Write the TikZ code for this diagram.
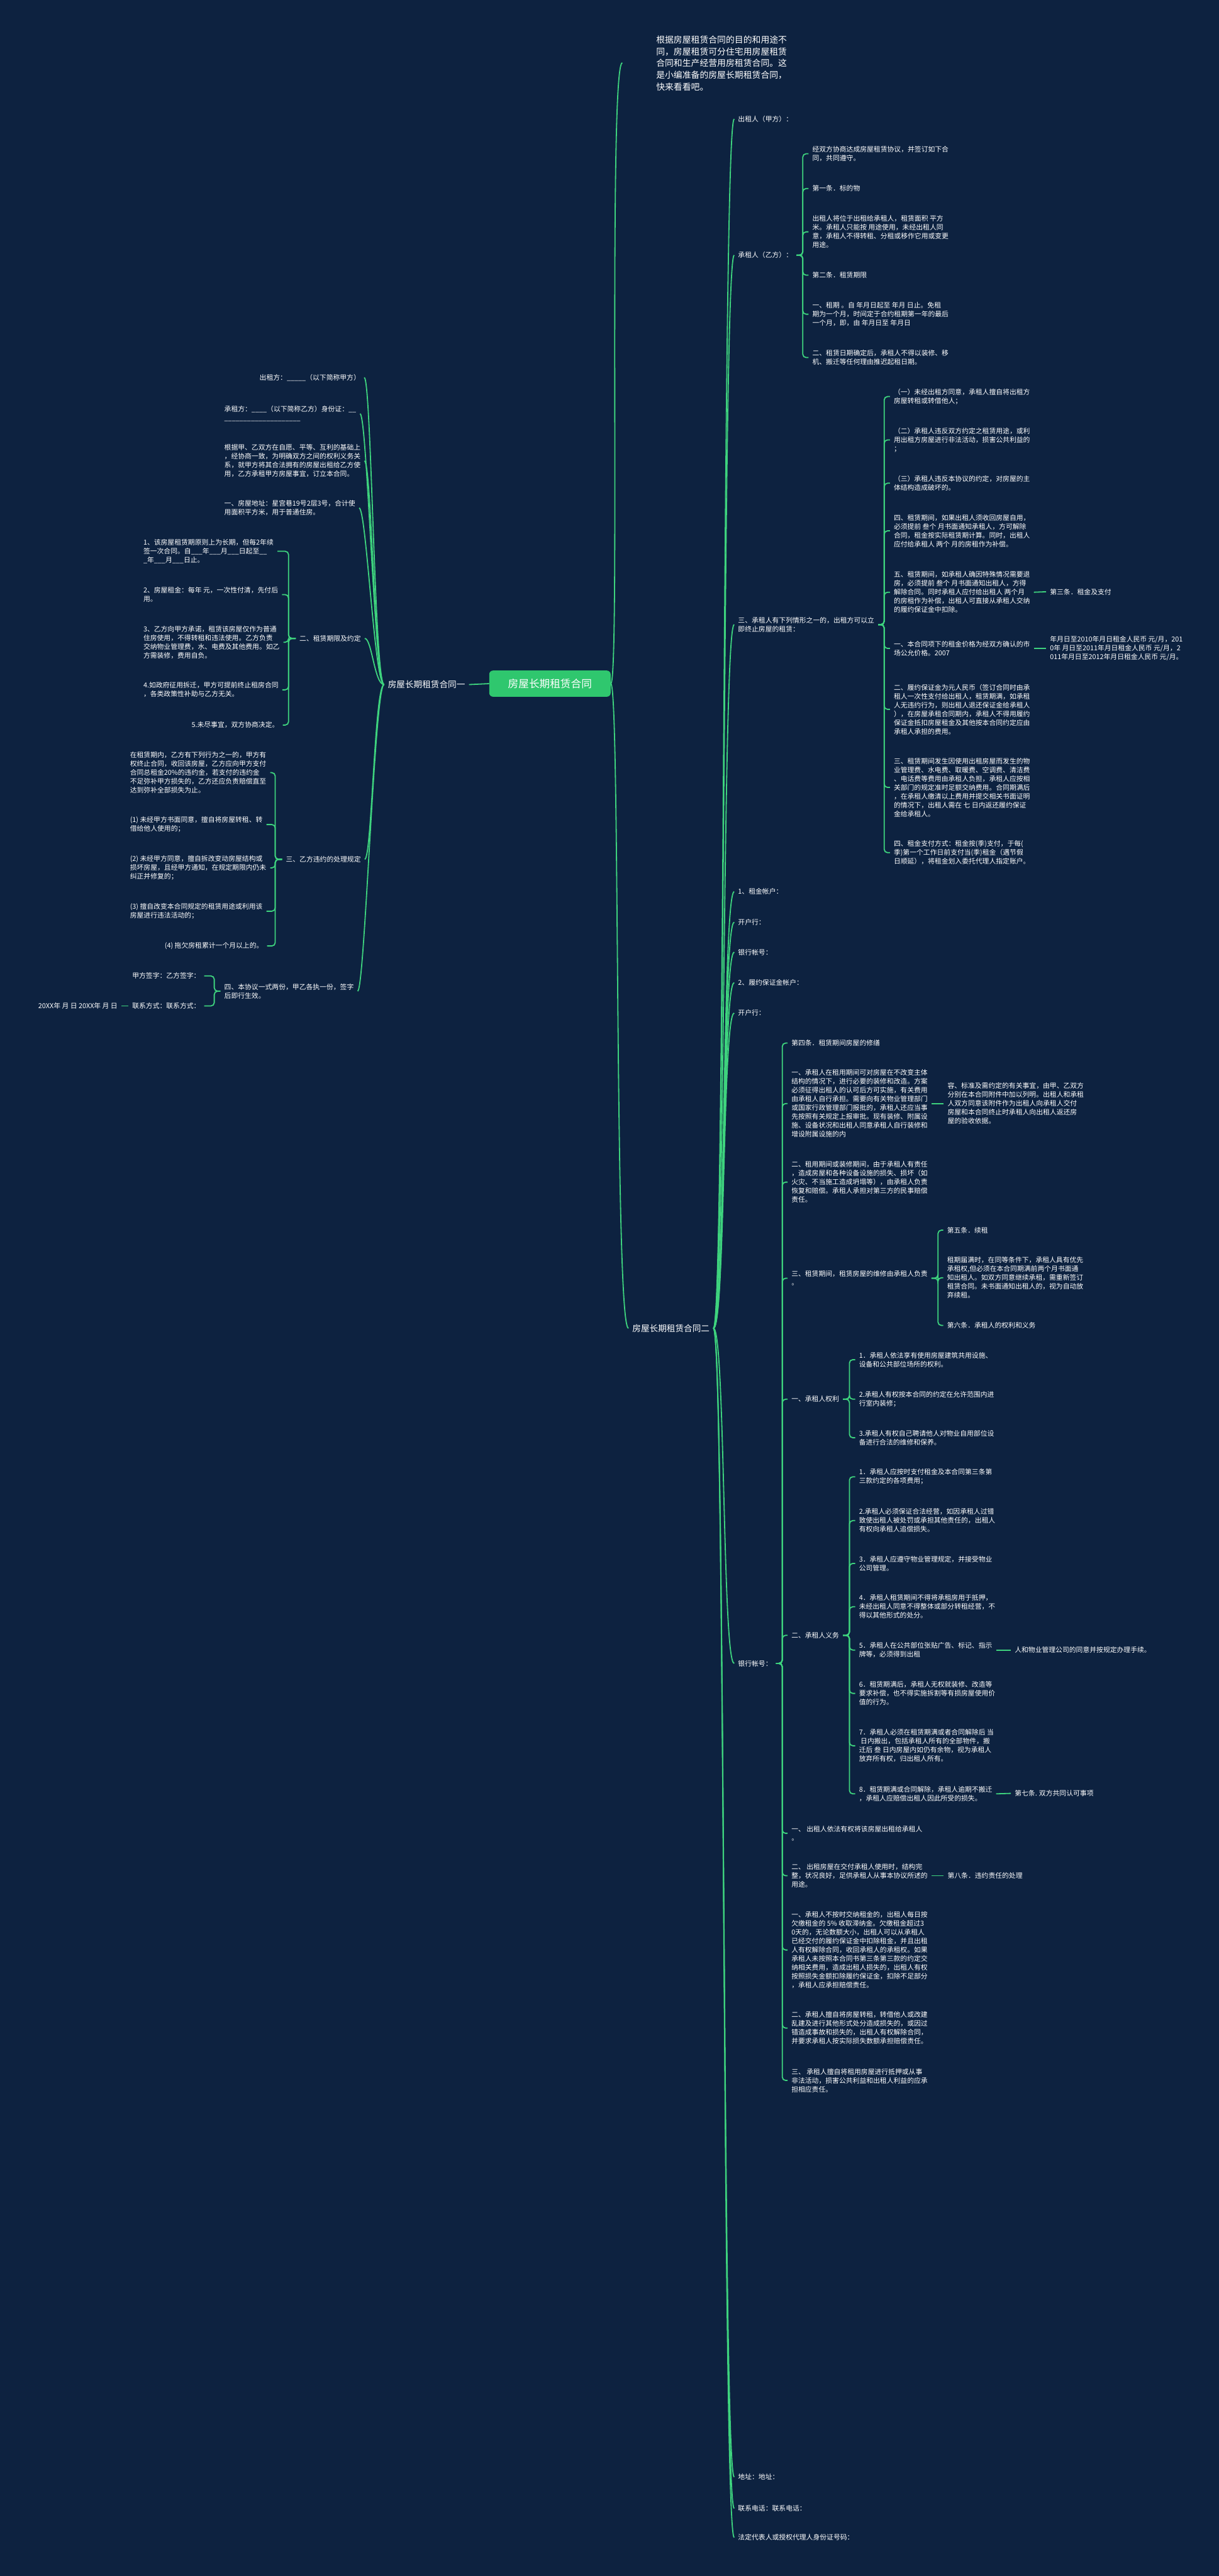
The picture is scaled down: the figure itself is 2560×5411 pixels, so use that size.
\documentclass[tikz,border=0pt]{standalone}
\usepackage{fontspec}
\setmainfont{Noto Sans CJK SC}
\definecolor{bgc}{HTML}{0D2240}
\definecolor{lineg}{HTML}{3ED37E}
\definecolor{cfill}{HTML}{2FC76E}
\begin{document}
\begin{tikzpicture}[x=1pt,y=-1pt]
\tikzset{
 every node/.style={text=white, inner ysep=0pt, inner xsep=8pt},
 sm/.style={font=\fontsize{14.3}{18.5}\selectfont, align=left},
 rw/.style={sm, anchor=west},
 le/.style={sm, anchor=east},
 big/.style={font=\fontsize{18}{24}\selectfont},
 ln/.style={draw=lineg, line width=2.4pt, rounded corners=7pt},
 cv/.style={draw=lineg, line width=2.4pt},
}
\fill[bgc] (0,0) rectangle (2560,5411);
\useasboundingbox (0,0) rectangle (2560,5411);

% center and roots
\node[fill=cfill, rounded corners=8pt, minimum width=255pt, minimum height=55pt, font=\fontsize{22}{26}\selectfont] (center) at (1155,1436) {房屋长期租赁合同};
\node[big, anchor=east] (root1) at (985,1438) {房屋长期租赁合同一};
\node[big, anchor=west] (root2) at (1320,2790) {房屋长期租赁合同二};
\node[anchor=west, inner xsep=0pt, align=left, font=\fontsize{18.3}{25}\selectfont] (intro) at (1378,133) {根据房屋租赁合同的目的和用途不\\同，房屋租赁可分住宅用房屋租赁\\合同和生产经营用房租赁合同。这\\是小编准备的房屋长期租赁合同，\\快来看看吧。};
\coordinate (introend) at (1307,132);
\draw[cv] (center.west) -- (root1.east);
\draw[cv] (center.east) .. controls +(20,0) and +(-30,0) .. (introend);
\draw[cv] (center.east) .. controls +(20,0) and +(-30,0) .. (root2.west);

% ---------- right root2 children ----------
\node[rw] (R1) at (1542,250) {出租人（甲方）：};
\node[rw] (R2) at (1542,536) {承租人（乙方）：};
\node[rw] (R3) at (1542,1312) {三、承租人有下列情形之一的，出租方可以立\\即终止房屋的租赁：};
\node[rw] (R4) at (1542,1873) {1、租金帐户：};
\node[rw] (R5) at (1542,1937) {开户行：};
\node[rw] (R6) at (1542,2000) {银行帐号：};
\node[rw] (R7) at (1542,2064) {2、履约保证金帐户：};
\node[rw] (R8) at (1542,2128) {开户行：};
\node[rw] (R9) at (1542,3494) {银行帐号：};
\node[rw] (R10) at (1542,5203) {地址：地址：};
\node[rw] (R11) at (1542,5269) {联系电话：联系电话：};
\node[rw] (R12) at (1542,5330) {法定代表人或授权代理人身份证号码：};
\foreach \c in {R1,R2,R3,R4,R5,R6,R7,R8,R9,R10,R11,R12}
  \draw[cv] (root2.east) .. controls +(25,0) and +(-25,0) .. (\c.west);

% R2 children
\coordinate (R2b) at (1686,0);
\node[rw] (c1) at (1698,323) {经双方协商达成房屋租赁协议，并签订如下合\\同，共同遵守。};
\node[rw] (c2) at (1698,396) {第一条．标的物};
\node[rw] (c3) at (1698,487) {出租人将位于出租给承租人，租赁面积 平方\\米。承租人只能按 用途使用，未经出租人同\\意，承租人不得转租、分租或移作它用或变更\\用途。};
\node[rw] (c4) at (1698,578) {第二条．租赁期限};
\node[rw] (c5) at (1698,660) {一、租期 。自 年月日起至 年月 日止。免租\\期为一个月，时间定于合约租期第一年的最后\\一个月，即，由 年月日至 年月日};
\node[rw] (c6) at (1698,751) {二、租赁日期确定后，承租人不得以装修、移\\机、搬迁等任何理由推迟起租日期。};
\foreach \c in {c1,c2,c3,c4,c5,c6}
  \draw[ln] (R2.east) -- (R2.east -| R2b) |- (\c.west);

% R3 children
\coordinate (R3b) at (1857,0);
\node[rw] (k1) at (1869,833) {（一）未经出租方同意，承租人擅自将出租方\\房屋转租或转借他人；};
\node[rw] (k2) at (1869,924) {（二）承租人违反双方约定之租赁用途，或利\\用出租方房屋进行非法活动，损害公共利益的\\；};
\node[rw] (k3) at (1869,1015) {（三）承租人违反本协议的约定，对房屋的主\\体结构造成破坏的。};
\node[rw] (k4) at (1869,1115) {四、租赁期间，如果出租人须收回房屋自用，\\必须提前 叁个 月书面通知承租人，方可解除\\合同，租金按实际租赁期计算。同时，出租人\\应付给承租人 两个 月的房租作为补偿。};
\node[rw] (k5) at (1869,1244) {五、租赁期间，如承租人确因特殊情况需要退\\房，必须提前 叁个 月书面通知出租人，方得\\解除合同。同时承租人应付给出租人 两个月\\的房租作为补偿，出租人可直接从承租人交纳\\的履约保证金中扣除。};
\node[rw] (k6) at (1869,1362) {一、本合同项下的租金价格为经双方确认的市\\场公允价格。2007};
\node[rw] (k7) at (1869,1490) {二、履约保证金为元人民币（签订合同时由承\\租人一次性支付给出租人，租赁期满，如承租\\人无违约行为，则出租人退还保证金给承租人\\），在房屋承租合同期内，承租人不得用履约\\保证金抵扣房屋租金及其他按本合同约定应由\\承租人承担的费用。};
\node[rw] (k8) at (1869,1654) {三、租赁期间发生因使用出租房屋而发生的物\\业管理费、水电费、取暖费、空调费、清洁费\\、电话费等费用由承租人负担，承租人应按相\\关部门的规定准时足额交纳费用。合同期满后\\，在承租人缴清以上费用并提交相关书面证明\\的情况下，出租人需在 七 日内返还履约保证\\金给承租人。};
\node[rw] (k9) at (1869,1791) {四、租金支付方式：租金按(季)支付，于每(\\季)第一个工作日前支付当(季)租金（遇节假\\日顺延），将租金划入委托代理人指定账户。};
\foreach \c in {k1,k2,k3,k4,k5,k6,k7,k8,k9}
  \draw[ln] (R3.east) -- (R3.east -| R3b) |- (\c.west);
\node[rw] (k5c) at (2197,1243) {第三条．租金及支付};
\node[rw] (k6c) at (2197,1362) {年月日至2010年月日租金人民币 元/月，201\\0年 月日至2011年月日租金人民币 元/月，2\\011年月日至2012年月日租金人民币 元/月。};
\draw[ln] (k5.east) -- (k5c.west);
\draw[ln] (k6.east) -- (k6c.west);

% R9 children
\coordinate (R9b) at (1643,0);
\node[rw] (b1) at (1654,2191) {第四条．租赁期间房屋的修缮};
\node[rw] (b2) at (1654,2318) {一、承租人在租用期间可对房屋在不改变主体\\结构的情况下，进行必要的装修和改造。方案\\必须征得出租人的认可后方可实施，有关费用\\由承租人自行承担。需要向有关物业管理部门\\或国家行政管理部门报批的，承租人还应当事\\先按照有关规定上报审批。现有装修、附属设\\施、设备状况和出租人同意承租人自行装修和\\增设附属设施的内};
\node[rw] (b3) at (1654,2483) {二、租用期间或装修期间，由于承租人有责任\\，造成房屋和各种设备设施的损失、损坏（如\\火灾、不当施工造成坍塌等），由承租人负责\\恢复和赔偿。承租人承担对第三方的民事赔偿\\责任。};
\node[rw] (b4) at (1654,2685) {三、租赁期间，租赁房屋的维修由承租人负责\\。};
\node[rw] (b5) at (1654,2939) {一、承租人权利};
\node[rw] (b6) at (1654,3435) {二、承租人义务};
\node[rw] (b7) at (1654,3851) {一、 出租人依法有权将该房屋出租给承租人\\。};
\node[rw] (b8) at (1654,3940) {二、 出租房屋在交付承租人使用时，结构完\\整，状况良好，足供承租人从事本协议所述的\\用途。};
\node[rw] (b9) at (1654,4096) {一、承租人不按时交纳租金的，出租人每日按\\欠缴租金的 5\% 收取滞纳金。欠缴租金超过3\\0天的，无论数额大小，出租人可以从承租人\\已经交付的履约保证金中扣除租金，并且出租\\人有权解除合同，收回承租人的承租权。如果\\承租人未按照本合同书第三条第三款的约定交\\纳相关费用，造成出租人损失的，出租人有权\\按照损失金额扣除履约保证金，扣除不足部分\\，承租人应承担赔偿责任。};
\node[rw] (b10) at (1654,4260) {二、承租人擅自将房屋转租，转借他人或改建\\乱建及进行其他形式处分造成损失的，或因过\\错造成事故和损失的，出租人有权解除合同，\\并要求承租人按实际损失数额承担赔偿责任。};
\node[rw] (b11) at (1654,4370) {三、 承租人擅自将租用房屋进行抵押或从事\\非法活动，损害公共利益和出租人利益的应承\\担相应责任。};
\foreach \c in {b1,b2,b3,b4,b5,b6,b7,b8,b9,b10,b11}
  \draw[ln] (R9.east) -- (R9.east -| R9b) |- (\c.west);
\node[rw] (b2c) at (1982,2318) {容、标准及需约定的有关事宜，由甲、乙双方\\分别在本合同附件中加以列明。出租人和承租\\人双方同意该附件作为出租人向承租人交付\\房屋和本合同终止时承租人向出租人返还房\\屋的验收依据。};
\draw[ln] (b2.east) -- (b2c.west);
\node[rw] (b8c) at (1982,3940) {第八条．违约责任的处理};
\draw[ln] (b8.east) -- (b8c.west);

% b4 children
\coordinate (b4b) at (1970,0);
\node[rw] (d1) at (1981,2584) {第五条．续租};
\node[rw] (d2) at (1981,2684) {租期届满时，在同等条件下，承租人具有优先\\承租权,但必须在本合同期满前两个月书面通\\知出租人。如双方同意继续承租，需重新签订\\租赁合同。未书面通知出租人的，视为自动放\\弃续租。};
\node[rw] (d3) at (1981,2784) {第六条．承租人的权利和义务};
\foreach \c in {d1,d2,d3}
  \draw[ln] (b4.east) -- (b4.east -| b4b) |- (\c.west);

% b5 children
\coordinate (b5b) at (1784,0);
\node[rw] (e1) at (1796,2856) {1．承租人依法享有使用房屋建筑共用设施、\\设备和公共部位场所的权利。};
\node[rw] (e2) at (1796,2939) {2.承租人有权按本合同的约定在允许范围内进\\行室内装修；};
\node[rw] (e3) at (1796,3020) {3.承租人有权自己聘请他人对物业自用部位设\\备进行合法的维修和保养。};
\foreach \c in {e1,e2,e3}
  \draw[ln] (b5.east) -- (b5.east -| b5b) |- (\c.west);

% b6 children
\node[rw] (f1) at (1796,3102) {1．承租人应按时支付租金及本合同第三条第\\三款约定的各项费用；};
\node[rw] (f2) at (1796,3194) {2.承租人必须保证合法经营，如因承租人过错\\致使出租人被处罚或承担其他责任的，出租人\\有权向承租人追偿损失。};
\node[rw] (f3) at (1796,3284) {3．承租人应遵守物业管理规定，并接受物业\\公司管理。};
\node[rw] (f4) at (1796,3375) {4．承租人租赁期间不得将承租房用于抵押，\\未经出租人同意不得整体或部分转租经营，不\\得以其他形式的处分。};
\node[rw] (f5) at (1796,3466) {5．承租人在公共部位张贴广告、标记、指示\\牌等，必须得到出租};
\node[rw] (f6) at (1796,3557) {6．租赁期满后，承租人无权就装修、改造等\\要求补偿，也不得实施拆割等有损房屋使用价\\值的行为。};
\node[rw] (f7) at (1796,3667) {7．承租人必须在租赁期满或者合同解除后 当\\\ 日内搬出，包括承租人所有的全部物件，搬\\迁后 叁 日内房屋内如仍有余物，视为承租人\\放弃所有权，归出租人所有。};
\node[rw] (f8) at (1796,3768) {8．租赁期满或合同解除，承租人逾期不搬迁\\，承租人应赔偿出租人因此所受的损失。};
\foreach \c in {f1,f2,f3,f4,f5,f6,f7,f8}
  \draw[ln] (b6.east) -- (b6.east -| b5b) |- (\c.west);
\node[rw] (f5c) at (2123,3466) {人和物业管理公司的同意并按规定办理手续。};
\node[rw] (f8c) at (2123,3767) {第七条. 双方共同认可事项};
\draw[ln] (f5.east) -- (f5c.west);
\draw[ln] (f8.east) -- (f8c.west);

% ---------- left root1 children ----------
\node[le] (L1) at (765,793) {出租方：\_\_\_\_\_（以下简称甲方）};
\node[rw] (L2) at (463,869) {承租方：\_\_\_\_（以下简称乙方）身份证：\_\_\\\_\_\_\_\_\_\_\_\_\_\_\_\_\_\_\_\_\_\_\_};
\node[rw] (L3) at (463,968) {根据甲、乙双方在自愿、平等、互利的基础上\\，经协商一致，为明确双方之间的权利义务关\\系，就甲方将其合法拥有的房屋出租给乙方使\\用，乙方承租甲方房屋事宜，订立本合同。};
\node[rw] (L4) at (463,1067) {一、房屋地址：星宫巷19号2层3号，合计使\\用面积平方米，用于普通住房。};
\node[le] (L5) at (766,1341) {二、租赁期限及约定};
\node[le] (L6) at (766,1805) {三、乙方违约的处理规定};
\node[rw] (L7) at (463,2082) {四、本协议一式两份，甲乙各执一份，签字\\后即行生效。};
\foreach \c in {L1,L2,L3,L4,L5,L6,L7}
  \draw[cv] (root1.west) .. controls +(-20,0) and +(15,0) .. (\c.east);

% L5 children
\coordinate (L5b) at (606,0);
\node[rw] (m1) at (293,1158) {1、该房屋租赁期原则上为长期，但每2年续\\签一次合同。自\_\_\_年\_\_\_月\_\_\_日起至\_\_\\\_年\_\_\_月\_\_\_日止。};
\node[rw] (m2) at (293,1249) {2、房屋租金：每年 元，一次性付清，先付后\\用。};
\node[rw] (m3) at (293,1349) {3、乙方向甲方承诺，租赁该房屋仅作为普通\\住房使用，不得转租和违法使用。乙方负责\\交纳物业管理费，水、电费及其他费用。如乙\\方需装修，费用自负。};
\node[rw] (m4) at (293,1449) {4.如政府征用拆迁，甲方可提前终止租房合同\\，各类政策性补助与乙方无关。};
\node[le] (m5) at (594,1523) {5.未尽事宜，双方协商决定。};
\foreach \c in {m1,m2,m3,m4,m5}
  \draw[ln] (L5.west) -- (L5.west -| L5b) |- (\c.east);

% L6 children
\coordinate (L6b) at (578,0);
\node[rw] (n1) at (265,1623) {在租赁期内，乙方有下列行为之一的，甲方有\\权终止合同，收回该房屋，乙方应向甲方支付\\合同总租金20\%的违约金，若支付的违约金\\不足弥补甲方损失的，乙方还应负责赔偿直至\\达到弥补全部损失为止。};
\node[rw] (n2) at (265,1732) {(1) 未经甲方书面同意，擅自将房屋转租、转\\借给他人使用的；};
\node[rw] (n3) at (265,1823) {(2) 未经甲方同意，擅自拆改变动房屋结构或\\损坏房屋，且经甲方通知，在规定期限内仍未\\纠正并修复的；};
\node[rw] (n4) at (265,1914) {(3) 擅自改变本合同规定的租赁用途或利用该\\房屋进行违法活动的；};
\node[le] (n5) at (561,1987) {(4) 拖欠房租累计一个月以上的。};
\foreach \c in {n1,n2,n3,n4,n5}
  \draw[ln] (L6.west) -- (L6.west -| L6b) |- (\c.east);

% L7 children
\coordinate (L7b) at (450,0);
\node[le] (o1) at (429,2050) {甲方签字：乙方签字：};
\node[le] (o2) at (429,2113) {联系方式：联系方式：};
\foreach \c in {o1,o2}
  \draw[ln] (L7.west) -- (L7.west -| L7b) |- (\c.east);
\node[le] (o2c) at (255,2113) {20XX年 月 日 20XX年 月 日};
\draw[ln] (o2.west) -- (o2c.east);
\end{tikzpicture}
\end{document}
